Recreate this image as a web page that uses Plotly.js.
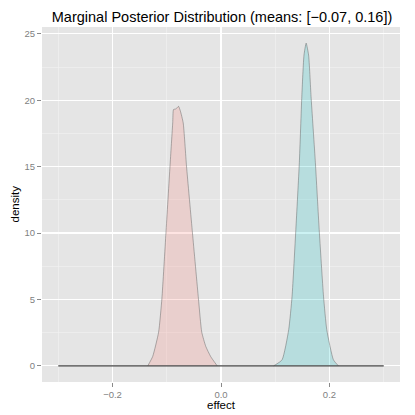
<!DOCTYPE html>
<html><head><meta charset="utf-8">
<script src="https://cdn.plot.ly/plotly-3.0.1.min.js"></script>
<style>html,body{margin:0;padding:0;background:#fff}#chart{width:415px;height:415px}</style>
</head><body><div id="chart"></div>
<script>
// Full range of the evaluated effect grid (density is 0 outside the peaks)
var effectRange = [-0.30, 0.30];
// Series 1 (red): effect values and densities
var redX = [-0.135, -0.126, -0.115, -0.109, -0.1015, -0.094, -0.089, -0.0875, -0.083, -0.0783, -0.075, -0.0697, -0.0636, -0.0526, -0.0416, -0.0355, -0.028, -0.019, -0.007];
var redY = [0, 0.70, 2.54, 5.06, 10.0, 15.05, 18.3, 19.3, 19.35, 19.54, 19.2, 18.3, 15.05, 10.0, 5.06, 2.54, 1.46, 0.70, 0];
// Series 2 (cyan)
var cyanX = [0.097, 0.1125, 0.1248, 0.131, 0.138, 0.1444, 0.149, 0.153, 0.157, 0.1615, 0.166, 0.174, 0.181, 0.189, 0.195, 0.2073, 0.2165];
var cyanY = [0, 0.45, 2.72, 5.24, 10.27, 15.3, 20.3, 23.4, 24.3, 23.4, 20.3, 15.3, 10.27, 5.24, 2.72, 0.45, 0];
var xTicks = [-0.2, 0.0, 0.2];
var yTicks = [0, 5, 10, 15, 20, 25];
var means = [-0.07, 0.16];

var xmin = effectRange[0], xmax = effectRange[1];
var ymax = Math.max.apply(null, redY.concat(cyanY));
var xpad = (xmax - xmin) * 0.05, ypad = ymax * 0.05;

var lineStyle = {color: 'rgba(90,90,90,0.45)', width: 1, shape: 'spline', smoothing: 0.5};
var traces = [
  {x: redX, y: redY, type: 'scatter', mode: 'lines', fill: 'tozeroy',
   fillcolor: 'rgba(248,118,109,0.2)', line: lineStyle, hoverinfo: 'skip'},
  {x: cyanX, y: cyanY, type: 'scatter', mode: 'lines', fill: 'tozeroy',
   fillcolor: 'rgba(0,191,196,0.2)', line: lineStyle, hoverinfo: 'skip'},
  {x: effectRange, y: [0, 0], type: 'scatter', mode: 'lines', line: {color: '#444', width: 1.2}, hoverinfo: 'skip'}
];

var layout = {
  width: 415, height: 415,
  margin: {l: 42, r: 15, t: 27, b: 33},
  paper_bgcolor: '#fff', plot_bgcolor: '#E5E5E5',
  showlegend: false,
  font: {family: 'Liberation Sans, Arial, sans-serif'},
  title: {text: 'Marginal Posterior Distribution (means: [\u2212' + Math.abs(means[0]).toFixed(2) + ', ' + means[1].toFixed(2) + '])',
          font: {size: 14.5, color: '#000'}, x: 0.535, xanchor: 'center', y: 0.947, yanchor: 'bottom'},
  xaxis: {range: [xmin - xpad, xmax + xpad], tickmode: 'array', tickvals: xTicks,
          ticktext: xTicks.map(function(v){return (v < 0 ? '\u2212' : '') + Math.abs(v).toFixed(1);}),
          ticks: 'outside', ticklen: 4, tickcolor: '#8A8A8A', tickwidth: 1,
          tickfont: {size: 9.5, color: '#7F7F7F'},
          showgrid: true, gridcolor: '#fff', gridwidth: 1.2, zeroline: false, showline: false,
          minor: {dtick: 0.1, tick0: 0.1, showgrid: true, gridcolor: '#F2F2F2', gridwidth: 0.6, ticks: ''}},
  yaxis: {range: [-ypad, ymax + ypad], tickmode: 'array', tickvals: yTicks,
          ticks: 'outside', ticklen: 4, tickcolor: '#8A8A8A', tickwidth: 1,
          tickfont: {size: 9.5, color: '#7F7F7F'},
          showgrid: true, gridcolor: '#fff', gridwidth: 1.2, zeroline: false, showline: false,
          minor: {dtick: 2.5, tick0: 2.5, showgrid: true, gridcolor: '#F2F2F2', gridwidth: 0.6, ticks: ''}},
  annotations: [
    {text: 'effect', xref: 'paper', yref: 'paper', x: 0.5, y: 0, xanchor: 'center', yanchor: 'top',
     yshift: -15, showarrow: false, font: {size: 11.5, color: '#000'}},
    {text: 'density', xref: 'paper', yref: 'paper', x: 0, y: 0.5, xanchor: 'center', yanchor: 'middle',
     xshift: -28, textangle: -90, showarrow: false, font: {size: 11.5, color: '#000'}}
  ]
};
Plotly.newPlot('chart', traces, layout, {displayModeBar: false, staticPlot: true});
</script></body></html>
